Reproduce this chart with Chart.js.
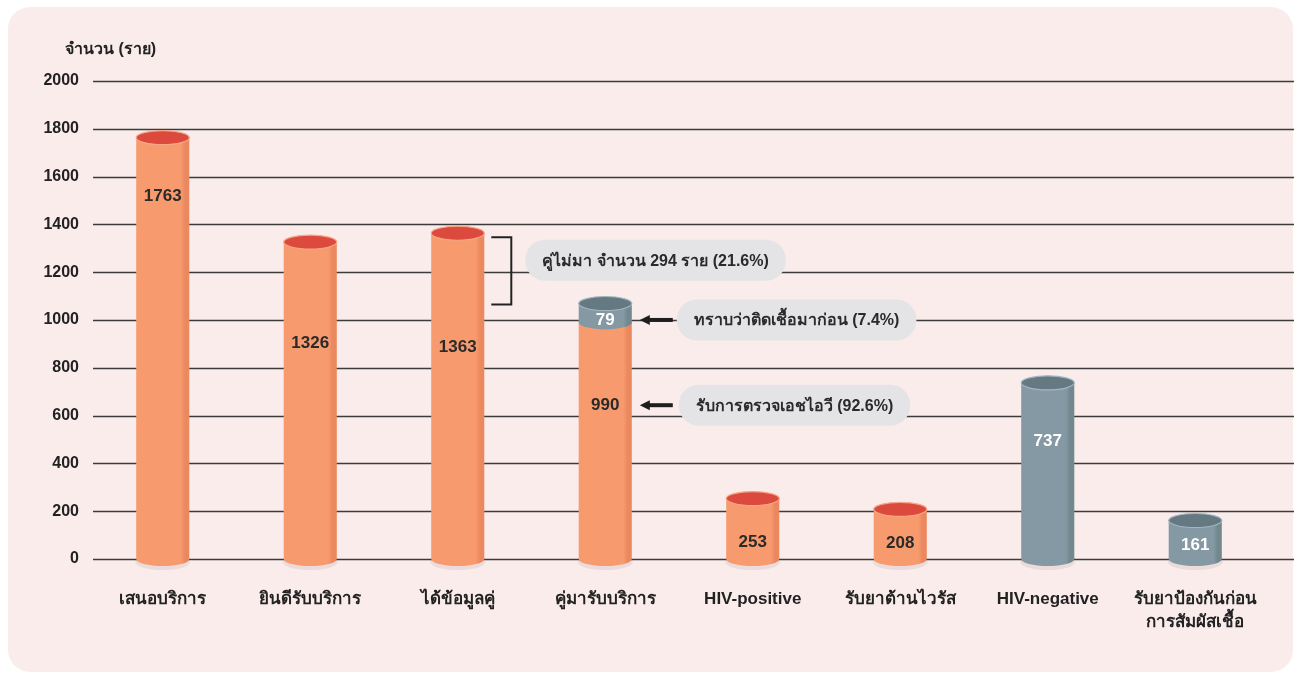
<!DOCTYPE html>
<html>
<head>
<meta charset="utf-8">
<script src="https://cdn.jsdelivr.net/npm/chart.js@4.4.1/dist/chart.umd.min.js"></script>
<style>
	html, body { margin: 0; padding: 0; background: #ffffff; }
	#wrap { width: 1298px; height: 675px; }
</style>
</head>
<body>
<div id="wrap"><canvas id="grafico" width="1298" height="675"></canvas></div>
<script>
// datos
var categorias = ['เสนอบริการ', 'ยินดีรับบริการ', 'ได้ข้อมูลคู่', 'คู่มารับบริการ', 'HIV-positive', 'รับยาต้านไวรัส', 'HIV-negative', ['รับยาป้องกันก่อน', 'การสัมผัสเชื้อ']];
var valores = [1763, 1326, 1363, 990, 253, 208, 737, 161];
var valoresExtra = [null, null, null, 79, null, null, null, null];
var tipoColor = ['o', 'o', 'o', 'o', 'o', 'o', 'g', 'g'];
var ticksY = [0, 200, 400, 600, 800, 1000, 1200, 1400, 1600, 1800, 2000];
var tituloY = 'จำนวน (ราย)';
var noVinieron = 294;
var textoBracket = 'คู่ไม่มา จำนวน 294 ราย (21.6%)';
var textoExtra = 'ทราบว่าติดเชื้อมาก่อน (7.4%)';
var textoBase = 'รับการตรวจเอชไอวี (92.6%)';

// estilo
var fuente = '"Liberation Sans Narrow", "Liberation Sans", Arial, sans-serif';
var posEtiqueta = [0.14, 0.32, 0.35, 0.35, 0.73, 0.68, 0.33, 0.64];
var colores = {
	o: { body: '#F79A6D', edge: '#EB8860', top: '#DC4A3D', rim: '#F6A886', text: '#2a2a2a' },
	g: { body: '#8499A4', edge: '#72888F', top: '#647982', rim: '#A4B6BF', text: '#ffffff' }
};

function cilindro(ctx, x, w, yTop, yBot, c, conTapa) {
	var rx = w / 2, ry = 7;
	var g = ctx.createLinearGradient(x - rx, 0, x + rx, 0);
	g.addColorStop(0, c.body);
	g.addColorStop(0.84, c.body);
	g.addColorStop(0.92, c.edge);
	g.addColorStop(1, c.edge);
	ctx.beginPath();
	ctx.moveTo(x - rx, yTop);
	ctx.lineTo(x - rx, yBot);
	ctx.ellipse(x, yBot, rx, ry, 0, Math.PI, 0, true);
	ctx.lineTo(x + rx, yTop);
	ctx.closePath();
	ctx.fillStyle = g;
	ctx.fill();
	if (conTapa) {
		ctx.beginPath();
		ctx.ellipse(x, yTop, rx, ry, 0, 0, Math.PI * 2);
		ctx.fillStyle = c.top;
		ctx.fill();
		ctx.lineWidth = 1.2;
		ctx.strokeStyle = c.rim;
		ctx.stroke();
	}
}

function pastilla(ctx, x, yc, texto) {
	ctx.font = 'bold 16px ' + fuente;
	var w = ctx.measureText(texto).width + 34, h = 41;
	ctx.beginPath();
	ctx.roundRect(x, yc - h / 2, w, h, 20);
	ctx.fillStyle = '#E4E4E6';
	ctx.fill();
	ctx.fillStyle = '#2a2a2a';
	ctx.textAlign = 'left';
	ctx.textBaseline = 'middle';
	ctx.fillText(texto, x + 17, yc + 1);
}

function flecha(ctx, x1, x2, y) {
	ctx.strokeStyle = '#1e1e1e';
	ctx.fillStyle = '#1e1e1e';
	ctx.lineWidth = 4;
	ctx.beginPath();
	ctx.moveTo(x2, y);
	ctx.lineTo(x1 + 8, y);
	ctx.stroke();
	ctx.beginPath();
	ctx.moveTo(x1, y);
	ctx.lineTo(x1 + 10, y - 5);
	ctx.lineTo(x1 + 10, y + 5);
	ctx.closePath();
	ctx.fill();
}

var pluginDibujo = {
	id: 'dibujo',
	beforeDraw: function (chart) {
		var ctx = chart.ctx;
		ctx.save();
		ctx.fillStyle = '#ffffff';
		ctx.fillRect(0, 0, chart.width, chart.height);
		ctx.beginPath();
		ctx.roundRect(8, 7, chart.width - 13, chart.height - 10, 22);
		ctx.fillStyle = '#FBECEC';
		ctx.fill();
		ctx.restore();
	},
	beforeDatasetsDraw: function (chart) {
		var ctx = chart.ctx, ys = chart.scales.y, a = chart.chartArea;
		ctx.save();
		ctx.strokeStyle = '#3b3b3b';
		ctx.lineWidth = 1.5;
		ticksY.forEach(function (t) {
			var y = Math.round(ys.getPixelForValue(t)) + 0.5;
			ctx.beginPath();
			ctx.moveTo(a.left + 4, y);
			ctx.lineTo(chart.width - 4, y);
			ctx.stroke();
		});
		ctx.font = 'bold 16px ' + fuente;
		ctx.fillStyle = '#222';
		ctx.textAlign = 'left';
		ctx.textBaseline = 'middle';
		ctx.fillText(tituloY, a.left - 24, a.top - 31);
		ctx.restore();
	},
	afterDatasetsDraw: function (chart) {
		var ctx = chart.ctx, ys = chart.scales.y;
		var m0 = chart.getDatasetMeta(0).data, m1 = chart.getDatasetMeta(1).data;
		ctx.save();
		// sombra y cilindros
		m0.forEach(function (bar, i) {
			var c = colores[tipoColor[i]];
			var yBase = ys.getPixelForValue(0);
			ctx.beginPath();
			ctx.ellipse(bar.x, yBase + 3, bar.width / 2 + 1, 8, 0, 0, Math.PI * 2);
			ctx.fillStyle = 'rgba(120,100,100,0.12)';
			ctx.fill();
			var tieneExtra = valoresExtra[i] != null;
			cilindro(ctx, bar.x, bar.width, bar.y, yBase, c, !tieneExtra);
			if (tieneExtra) {
				var b1 = m1[i];
				cilindro(ctx, b1.x, b1.width, b1.y, bar.y, colores.g, true);
			}
		});
		// etiquetas
		ctx.font = 'bold 17px ' + fuente;
		ctx.textAlign = 'center';
		ctx.textBaseline = 'middle';
		m0.forEach(function (bar, i) {
			var c = colores[tipoColor[i]];
			var yBase = ys.getPixelForValue(0);
			var y = bar.y + (yBase - bar.y) * posEtiqueta[i];
			ctx.fillStyle = c.text;
			ctx.fillText(String(valores[i]), bar.x, y);
			if (valoresExtra[i] != null) {
				var b1 = m1[i];
				ctx.fillStyle = colores.g.text;
				ctx.fillText(String(valoresExtra[i]), b1.x, (b1.y + bar.y) / 2 + 7);
			}
		});
		// corchete de los que no vinieron
		var b2 = m0[2];
		var yA = ys.getPixelForValue(valores[2]) + 4;
		var yB = ys.getPixelForValue(valores[2] - noVinieron) + 1;
		var xL = b2.x + b2.width / 2 + 7, xR = xL + 20;
		ctx.strokeStyle = '#222';
		ctx.lineWidth = 2;
		ctx.beginPath();
		ctx.moveTo(xL, yA);
		ctx.lineTo(xR, yA);
		ctx.lineTo(xR, yB);
		ctx.lineTo(xL, yB);
		ctx.stroke();
		pastilla(ctx, xR + 14, yA + 23, textoBracket);
		// flechas del grupo apilado
		var b3 = m0[3], b3x = m1[3];
		var xf = b3.x + b3.width / 2 + 8;
		var yExtra = (b3x.y + b3.y) / 2 + 7;
		var yBaseTxt = b3.y + (ys.getPixelForValue(0) - b3.y) * posEtiqueta[3];
		flecha(ctx, xf, xf + 33, yExtra);
		flecha(ctx, xf, xf + 33, yBaseTxt);
		pastilla(ctx, xf + 37, yExtra, textoExtra);
		pastilla(ctx, xf + 39, yBaseTxt, textoBase);
		ctx.restore();
	}
};

var contexto = document.getElementById('grafico').getContext('2d');
var grafico = new Chart(contexto, {
	type: 'bar',
	data: {
		labels: categorias,
		datasets: [{
			label: 'base',
			data: valores,
			backgroundColor: 'rgba(0,0,0,0)',
			barPercentage: 0.36,
			categoryPercentage: 1
		}, {
			label: 'extra',
			data: valoresExtra,
			backgroundColor: 'rgba(0,0,0,0)',
			barPercentage: 0.36,
			categoryPercentage: 1
		}]
	},
	options: {
		responsive: false,
		animation: false,
		layout: { padding: { top: 81, right: 29, bottom: 10, left: 0 } },
		plugins: { legend: { display: false }, tooltip: { enabled: false } },
		scales: {
			x: {
				stacked: true,
				grid: { display: false },
				border: { display: false },
				ticks: {
					color: '#222',
					padding: 20,
					maxRotation: 0,
					autoSkip: false,
					font: { family: fuente, size: 17, weight: 'bold', lineHeight: 1.4 }
				},
				afterFit: function (s) { s.height = 106; }
			},
			y: {
				stacked: true,
				min: 0,
				max: 2000,
				grid: { display: false, drawTicks: false },
				border: { display: false },
				afterBuildTicks: function (s) { s.ticks = ticksY.map(function (v) { return { value: v }; }); },
				ticks: {
					color: '#222',
					padding: 10,
					font: { family: fuente, size: 16, weight: 'bold' },
					callback: function (v) { return String(v); }
				},
				afterFit: function (s) { s.width = 89; }
			}
		}
	},
	plugins: [pluginDibujo]
});
</script>
</body>
</html>
